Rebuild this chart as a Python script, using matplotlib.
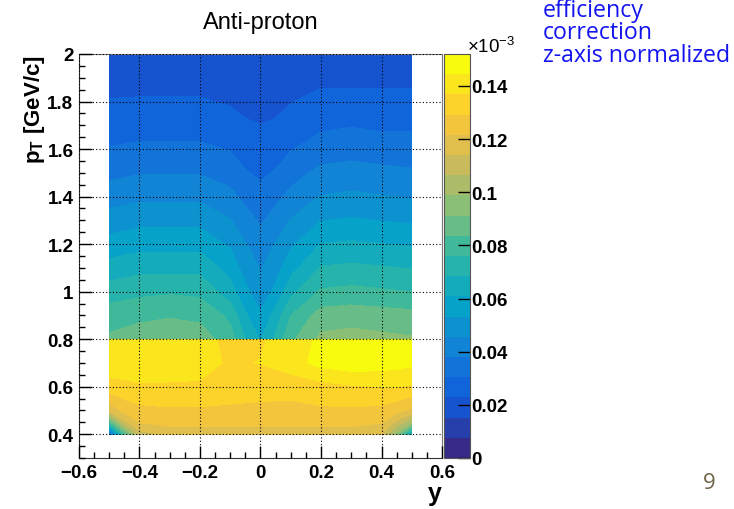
import numpy as np
import matplotlib
matplotlib.use("Agg")
import matplotlib.pyplot as plt
from matplotlib.colors import LinearSegmentedColormap
from matplotlib.ticker import MultipleLocator, FuncFormatter

plt.rcParams['font.family'] = ['Liberation Sans', 'DejaVu Sans']
plt.rcParams['mathtext.fontset'] = 'custom'
plt.rcParams['mathtext.rm'] = 'Liberation Sans'
plt.rcParams['mathtext.bf'] = 'Liberation Sans:bold'

# efficiency map (values in units of 1e-3)
# upper block: pT 0.8 - 2.0 GeV/c
y_hi = [-0.5, -0.4, -0.3, -0.2, -0.1, -0.05, 0.0, 0.05, 0.1, 0.2, 0.3, 0.4, 0.5]
pt_hi = [0.8, 0.9, 1.0, 1.1, 1.2, 1.3, 1.4, 1.5, 1.6, 1.7, 1.8, 1.9, 2.0]
eff_hi = [
    [0.085, 0.087, 0.088, 0.087, 0.080, 0.068, 0.060, 0.070, 0.082, 0.093, 0.094, 0.093, 0.092],
    [0.080, 0.082, 0.083, 0.082, 0.074, 0.062, 0.054, 0.064, 0.076, 0.087, 0.088, 0.087, 0.086],
    [0.072, 0.074, 0.075, 0.074, 0.064, 0.055, 0.049, 0.055, 0.066, 0.077, 0.078, 0.077, 0.076],
    [0.064, 0.066, 0.066, 0.066, 0.058, 0.050, 0.045, 0.050, 0.058, 0.069, 0.070, 0.069, 0.068],
    [0.056, 0.058, 0.058, 0.058, 0.052, 0.046, 0.041, 0.046, 0.052, 0.061, 0.062, 0.061, 0.060],
    [0.049, 0.051, 0.051, 0.051, 0.046, 0.041, 0.037, 0.041, 0.046, 0.053, 0.054, 0.053, 0.052],
    [0.042, 0.044, 0.044, 0.044, 0.040, 0.036, 0.033, 0.036, 0.040, 0.046, 0.047, 0.046, 0.045],
    [0.036, 0.0375, 0.0375, 0.0375, 0.035, 0.031, 0.029, 0.031, 0.035, 0.040, 0.041, 0.040, 0.039],
    [0.031, 0.032, 0.032, 0.032, 0.030, 0.027, 0.026, 0.027, 0.030, 0.034, 0.035, 0.034, 0.034],
    [0.026, 0.027, 0.027, 0.027, 0.026, 0.024, 0.023, 0.024, 0.026, 0.029, 0.030, 0.029, 0.029],
    [0.0232, 0.0235, 0.0235, 0.0235, 0.022, 0.020, 0.019, 0.020, 0.0225, 0.025, 0.025, 0.025, 0.025],
    [0.020, 0.020, 0.020, 0.020, 0.020, 0.019, 0.019, 0.019, 0.020, 0.021, 0.021, 0.021, 0.021],
    [0.018, 0.018, 0.018, 0.018, 0.018, 0.017, 0.017, 0.017, 0.018, 0.019, 0.019, 0.019, 0.019],
]
# lower block: pT 0.4 - 0.8 GeV/c
y_lo = [-0.5, -0.45, -0.4, -0.3, -0.2, -0.1, 0.0, 0.1, 0.2, 0.3, 0.4, 0.45, 0.5]
pt_lo = [0.4, 0.45, 0.5, 0.6, 0.7, 0.8]
eff_lo = [
    [0.030, 0.080, 0.110, 0.117, 0.117, 0.117, 0.117, 0.117, 0.117, 0.117, 0.114, 0.095, 0.060],
    [0.080, 0.112, 0.122, 0.124, 0.124, 0.124, 0.124, 0.124, 0.124, 0.124, 0.122, 0.112, 0.100],
    [0.116, 0.124, 0.127, 0.128, 0.128, 0.127, 0.127, 0.127, 0.128, 0.128, 0.127, 0.124, 0.120],
    [0.134, 0.135, 0.136, 0.136, 0.136, 0.135, 0.133, 0.132, 0.134, 0.136, 0.137, 0.137, 0.136],
    [0.141, 0.141, 0.141, 0.140, 0.139, 0.136, 0.137, 0.141, 0.147, 0.149, 0.148, 0.147, 0.146],
    [0.141, 0.141, 0.141, 0.140, 0.139, 0.135, 0.136, 0.140, 0.146, 0.148, 0.147, 0.146, 0.145],
]
zmax = 0.152
n_contours = 20
cbar_ticks = [0, 0.02, 0.04, 0.06, 0.08, 0.1, 0.12, 0.14]

# ROOT kBird palette
stops = [0.0, 0.125, 0.25, 0.375, 0.5, 0.625, 0.75, 0.875, 1.0]
red = [0.2082, 0.0592, 0.0780, 0.0232, 0.1802, 0.5301, 0.8186, 0.9956, 0.9764]
green = [0.1664, 0.3599, 0.5041, 0.6419, 0.7178, 0.7492, 0.7328, 0.7862, 0.9832]
blue = [0.5293, 0.8684, 0.8385, 0.7914, 0.6425, 0.4662, 0.3499, 0.1968, 0.0539]
bird = LinearSegmentedColormap.from_list(
    'bird', list(zip(stops, zip(red, green, blue))))
# ROOT picks one palette colour per contour band, first and last included
band_colors = [bird(k / (n_contours - 1)) for k in range(n_contours)]


def fmt_tick(v, pos):
    return ('%g' % round(v, 3)).replace('-', '\u2212')


fig = plt.figure(figsize=(7.34, 5.10), dpi=100)
ax = fig.add_axes([0.1076, 0.1, 0.4946, 0.7922])
cax = fig.add_axes([0.6045, 0.1, 0.0354, 0.7922])

levels = np.linspace(0, zmax, n_contours + 1)
cs = ax.contourf(y_hi, pt_hi, np.array(eff_hi), levels=levels, colors=band_colors)
ax.contourf(y_lo, pt_lo, np.array(eff_lo), levels=levels, colors=band_colors)

ax.set_xlim(-0.6, 0.6)
ax.set_ylim(0.3, 2.0)
ax.set_axisbelow(False)
ax.grid(True, which='major', color='black', linestyle=(0, (1, 2)), linewidth=0.8)

fmt = FuncFormatter(fmt_tick)
ax.xaxis.set_major_locator(MultipleLocator(0.2))
ax.xaxis.set_minor_locator(MultipleLocator(0.05))
ax.yaxis.set_major_locator(MultipleLocator(0.2))
ax.yaxis.set_minor_locator(MultipleLocator(0.05))
ax.xaxis.set_major_formatter(fmt)
ax.yaxis.set_major_formatter(fmt)
ax.tick_params(which='both', direction='in', top=False, right=False, width=1)
ax.tick_params(which='major', length=9, labelsize=13.5, pad=4)
ax.tick_params(which='minor', length=4.5)
for lab in ax.get_xticklabels() + ax.get_yticklabels():
    lab.set_fontweight('bold')
for s in ['left', 'bottom']:
    ax.spines[s].set_color('#333333')
for s in ['top', 'right']:
    ax.spines[s].set_color('#777777')

ax.set_title('Anti-proton', fontsize=17, pad=19)
ax.set_ylabel(r'p$_{\mathbf{T}}$ [GeV/c]', fontsize=16, fontweight='bold', loc='top', labelpad=0)
ax.set_xlabel('y', fontsize=18, fontweight='bold', loc='right', labelpad=0)

cb = fig.colorbar(cs, cax=cax, ticks=cbar_ticks)
cb.outline.set_edgecolor('#555555')
cax.tick_params(direction='in', length=9, width=1, labelsize=13.5, pad=1, right=True, left=False)
cax.yaxis.set_major_formatter(fmt)
for lab in cax.get_yticklabels():
    lab.set_fontweight('bold')
fig.text(467 / 734, 1 - 47 / 510, r'$\times$10$^{-3}$', fontsize=13.5, ha='left', va='center')

# slide annotations
for txt, yb in [('efficiency', 17), ('correction', 39.5), ('z-axis normalized', 62)]:
    fig.text(543 / 734, 1 - yb / 510, txt, fontsize=16.7, color='#1414f0',
             family='Open Sans', ha='left', va='baseline')
fig.text(716 / 734, 1 - 489 / 510, '9', fontsize=16, color='#706448',
         family='Open Sans', ha='right', va='baseline')

fig.savefig('out.png', dpi=100)
